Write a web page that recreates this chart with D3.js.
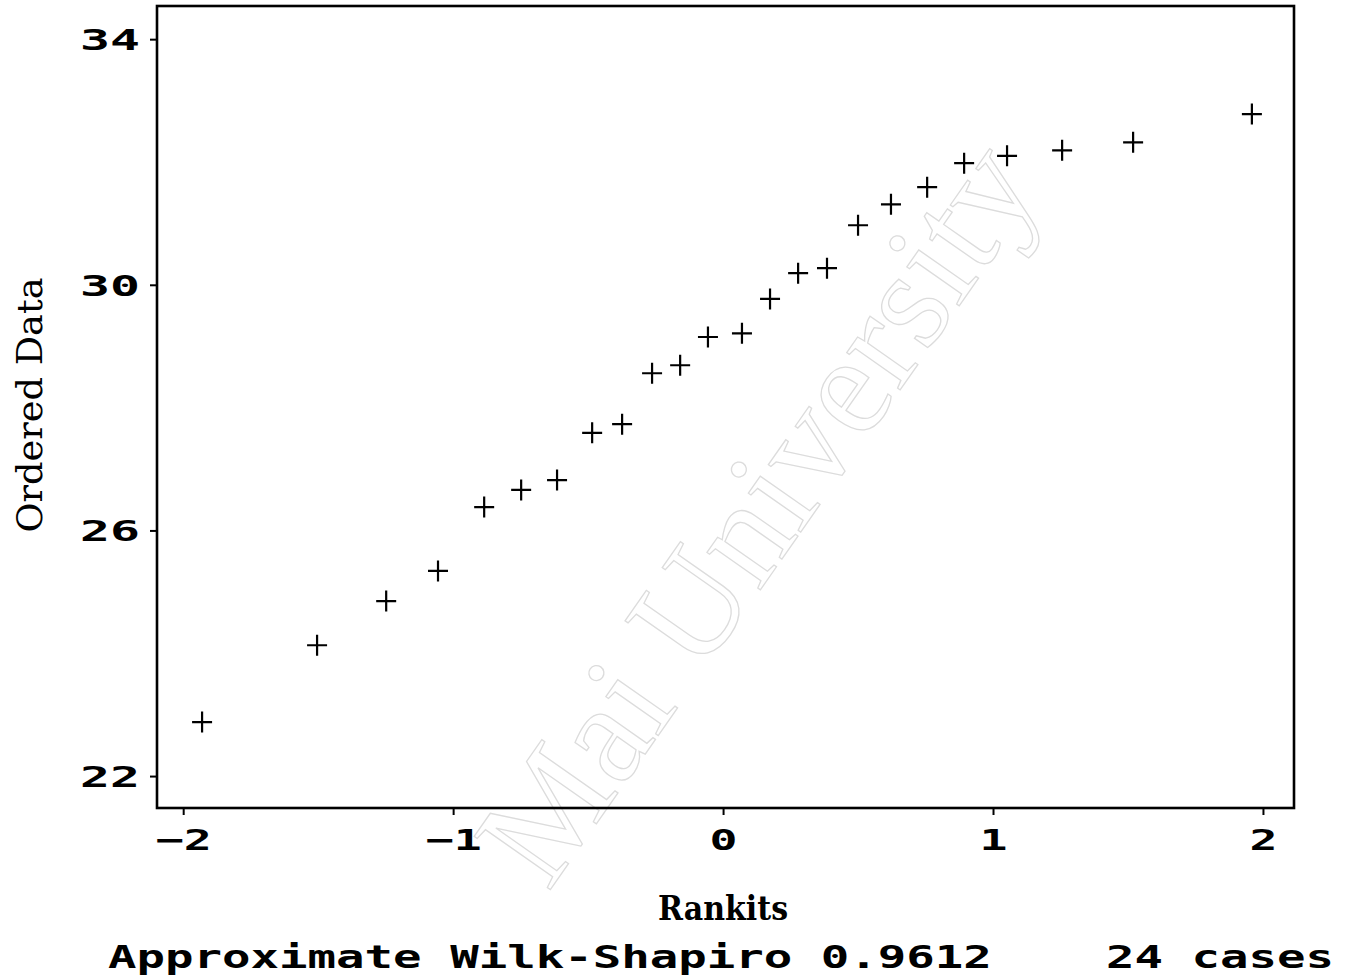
<!DOCTYPE html>
<html>
<head>
<meta charset="utf-8">
<script src="https://cdn.jsdelivr.net/npm/d3@7/dist/d3.min.js"></script>
<style>
  html, body { margin: 0; padding: 0; background: #fff; }
  svg { display: block; }
</style>
</head>
<body>
<svg id="chart" width="1351" height="979"></svg>
<script>
// ---- data ----
const rankits = [-1.930, -1.504, -1.248, -1.056, -0.885, -0.748, -0.615, -0.485,
                 -0.374, -0.263, -0.159, -0.056, 0.070, 0.174, 0.278, 0.385,
                 0.500, 0.622, 0.756, 0.893, 1.052, 1.256, 1.519, 1.959];
const orderedData = [22.88, 24.13, 24.85, 25.34, 26.38, 26.66, 26.82, 27.59,
                     27.73, 28.56, 28.69, 29.15, 29.21, 29.77, 30.19, 30.27,
                     30.97, 31.31, 31.59, 31.98, 32.10, 32.19, 32.32, 32.78];
const xTickValues = [-2, -1, 0, 1, 2];
const xTickLabels = ["\u22122", "\u22121", "0", "1", "2"];
const yTickValues = [22, 26, 30, 34];
const yTickLabels = ["22", "26", "30", "34"];
const xTitle = "Rankits";
const yTitle = "Ordered Data";
const footer = "Approximate Wilk-Shapiro 0.9612    24 cases";
const watermark = "Mai University";

// ---- layout ----
const svg = d3.select("#chart");
svg.append("rect").attr("width", 1351).attr("height", 979).attr("fill", "#fff");

const plot = { left: 157, right: 1294, top: 6, bottom: 808 };
const x = d3.scaleLinear().domain([-2.097, 2.115]).range([plot.left, plot.right]);
const y = d3.scaleLinear().domain([21.48, 34.54]).range([plot.bottom, plot.top]);

// faint watermark (outlined serif text)
svg.append("text")
  .attr("transform", "translate(548,893) rotate(-55)")
  .attr("font-family", "Liberation Serif, serif")
  .attr("font-size", 142)
  .attr("fill", "none")
  .attr("stroke", "#dcdcdc")
  .attr("stroke-width", 1.3)
  .text(watermark);

// frame
svg.append("rect")
  .attr("x", plot.left).attr("y", plot.top)
  .attr("width", plot.right - plot.left).attr("height", plot.bottom - plot.top)
  .attr("fill", "none").attr("stroke", "#000").attr("stroke-width", 2.6);

const monoFont = "'DejaVu Sans Mono', 'Liberation Mono', monospace";

// y axis
const yAxis = d3.axisLeft(y)
  .tickValues(yTickValues)
  .tickSize(7)
  .tickPadding(10)
  .tickFormat((d, i) => yTickLabels[i]);
const gy = svg.append("g").attr("transform", `translate(${plot.left},0)`).call(yAxis);
gy.select(".domain").remove();
gy.selectAll(".tick line").attr("stroke", "#000").attr("stroke-width", 2);
gy.selectAll(".tick text")
  .attr("font-family", monoFont)
  .attr("font-weight", "bold")
  .attr("font-size", 29)
  .attr("fill", "#000")
  .attr("dy", "0.36em")
  .attr("textLength", d => 30 * yTickLabels[yTickValues.indexOf(d)].length)
  .attr("lengthAdjust", "spacingAndGlyphs");

// x axis
const xAxis = d3.axisBottom(x)
  .tickValues(xTickValues)
  .tickSize(7)
  .tickPadding(14)
  .tickFormat((d, i) => xTickLabels[i]);
const gx = svg.append("g").attr("transform", `translate(0,${plot.bottom})`).call(xAxis);
gx.select(".domain").remove();
gx.selectAll(".tick line").attr("stroke", "#000").attr("stroke-width", 2);
gx.selectAll(".tick text")
  .attr("font-family", monoFont)
  .attr("font-weight", "bold")
  .attr("font-size", 29)
  .attr("fill", "#000")
  .attr("textLength", d => 28 * xTickLabels[xTickValues.indexOf(d)].length)
  .attr("lengthAdjust", "spacingAndGlyphs");

// points as plus marks
const pts = rankits.map((r, i) => ({ r, v: orderedData[i] }));
svg.append("g").selectAll("path")
  .data(pts)
  .join("path")
  .attr("transform", d => `translate(${x(d.r)},${y(d.v)})`)
  .attr("d", "M-10,0H10M0,-10.5V10.5")
  .attr("stroke", "#000")
  .attr("stroke-width", 2.2)
  .attr("fill", "none");

// axis titles
svg.append("text")
  .attr("x", x(0)).attr("y", 920)
  .attr("text-anchor", "middle")
  .attr("font-family", "'DejaVu Serif', 'Liberation Serif', serif")
  .attr("font-weight", "bold")
  .attr("font-size", 33)
  .attr("textLength", 130)
  .attr("lengthAdjust", "spacingAndGlyphs")
  .attr("fill", "#000")
  .text(xTitle);

svg.append("text")
  .attr("transform", "translate(42,405) rotate(-90)")
  .attr("text-anchor", "middle")
  .attr("font-family", "'DejaVu Serif', 'Liberation Serif', serif")
  .attr("font-size", 36)
  .attr("textLength", 255)
  .attr("lengthAdjust", "spacingAndGlyphs")
  .attr("fill", "#000")
  .text(yTitle);

// footer line
svg.append("text")
  .attr("x", 108).attr("y", 968)
  .attr("font-family", monoFont)
  .attr("font-weight", "bold")
  .attr("font-size", 32)
  .attr("textLength", 1226)
  .attr("lengthAdjust", "spacingAndGlyphs")
  .attr("xml:space", "preserve")
  .style("white-space", "pre")
  .attr("fill", "#000")
  .text(footer);
</script>
</body>
</html>
